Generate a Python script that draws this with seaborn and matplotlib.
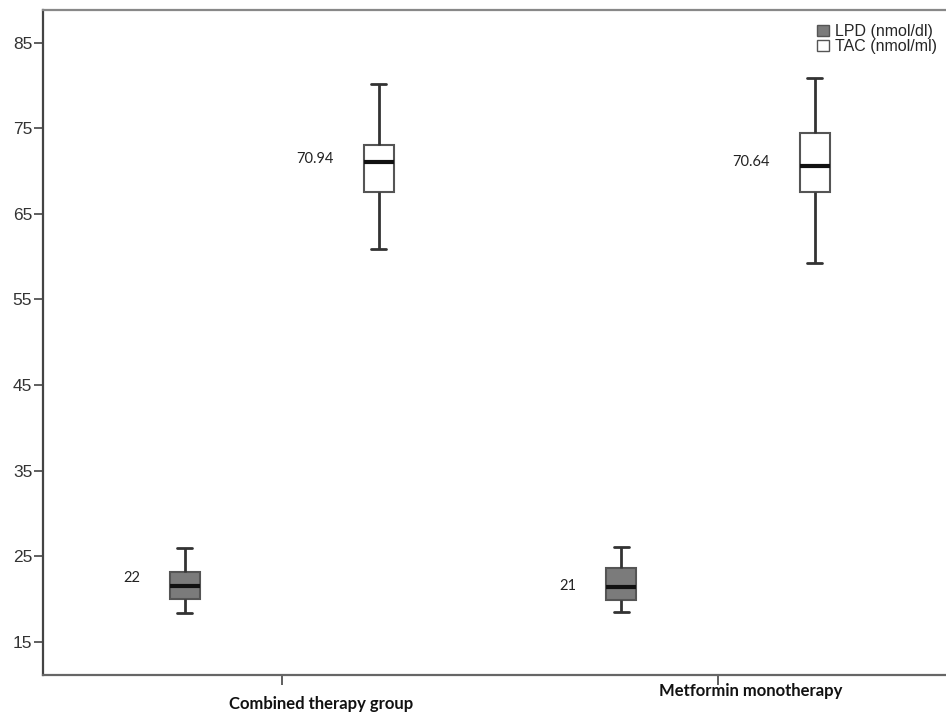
import matplotlib
matplotlib.use('Agg')
import matplotlib.pyplot as plt
import seaborn as sns
import pandas as pd
import numpy as np
from matplotlib.patches import Patch

# 数据：每个箱子用 [下须, Q1, 中位数, Q3, 上须] 表示
groups = ['Combined therapy group', 'Metformin monotherapy']
markers = ['LPD (nmol/dl)', 'TAC (nmol/ml)']
lpd_combined = [18.3, 20.0, 21.5, 23.1, 25.9]
tac_combined = [60.9, 67.5, 71.0, 73.0, 80.2]
lpd_metformin = [18.5, 19.9, 21.4, 23.6, 26.1]
tac_metformin = [59.3, 67.5, 70.6, 74.4, 80.9]
# 箱子旁边的数值标注
value_labels = [['22', '70.94'], ['21', '70.64']]
label_values = [[22, 70.94], [21, 70.64]]
y_ticks = [15, 25, 35, 45, 55, 65, 75, 85]

box_colors = {'LPD (nmol/dl)': '#7b7b7b', 'TAC (nmol/ml)': '#ffffff'}


def build_frame():
    rows = []
    series = {
        (groups[0], markers[0]): lpd_combined,
        (groups[0], markers[1]): tac_combined,
        (groups[1], markers[0]): lpd_metformin,
        (groups[1], markers[1]): tac_metformin,
    }
    for (g, m), vals in series.items():
        for v in vals:
            rows.append([g, m, v])
    return pd.DataFrame(rows, columns=['group', 'marker', 'value'])


def draw(_df):
    sns.set_style('white')
    plt.rcParams['font.family'] = ['Liberation Sans', 'DejaVu Sans']

    fig = plt.figure(figsize=(9.46, 7.19), dpi=100)
    ax = fig.add_axes([0.0451, 0.0612, 0.9665, 0.9249])

    sns.boxplot(data=_df, x='group', y='value', hue='marker', order=groups,
                hue_order=markers, palette=box_colors, width=0.888, gap=0.845,
                whis=np.inf, linewidth=1.5, linecolor='#333333', legend=False,
                medianprops={'color': '#111111', 'linewidth': 3.0},
                whiskerprops={'color': '#333333', 'linewidth': 2.0},
                capprops={'color': '#333333', 'linewidth': 2.0},
                boxprops={'edgecolor': '#555555'},
                ax=ax)

    ax.set_xlim(-0.548, 1.548)
    ax.set_ylim(11.11, 88.82)
    ax.set_yticks(y_ticks)
    ax.set_yticklabels([str(t) for t in y_ticks], fontsize=12.5, color='#333333')
    ax.set_xticks([0, 1])
    ax.set_xticklabels(['', ''])
    ax.set_xlabel('')
    ax.set_ylabel('')

    ax.tick_params(axis='y', direction='out', length=6.5, width=1.2, color='#444444', pad=1, left=True)
    ax.tick_params(axis='x', direction='out', length=7.5, width=1.2, color='#444444', bottom=True)

    for side in ['left', 'bottom', 'top']:
        ax.spines[side].set_visible(True)
        ax.spines[side].set_linewidth(1.6)
    ax.spines['left'].set_color('#444444')
    ax.spines['bottom'].set_color('#666666')
    ax.spines['top'].set_color('#888888')
    ax.spines['right'].set_visible(False)

    # 数值标注
    offset = 0.222
    for gi in range(len(groups)):
        for mi in range(len(markers)):
            xpos = gi + (-offset if mi == 0 else offset)
            ax.annotate(value_labels[gi][mi], xy=(xpos, label_values[gi][mi]),
                        xytext=(-45, 4), textcoords='offset pixels',
                        ha='right', va='center', fontsize=10.5, family='Lato',
                        color='#222222')

    # 组名（原图中位置不完全对齐刻度）
    fig.text(321.5 / 946, 1 - 704 / 719, groups[0], ha='center', va='center',
             fontsize=12, fontweight='bold', family='Lato', color='#111111')
    fig.text(751 / 946, 1 - 691 / 719, groups[1], ha='center', va='center',
             fontsize=12, fontweight='bold', family='Lato', color='#111111')

    handles = [Patch(facecolor=box_colors[m], edgecolor='#555555', linewidth=1.0) for m in markers]
    ax.legend(handles, markers, loc='upper left', bbox_to_anchor=(817 / 946, 1 - 24 / 719),
              bbox_transform=fig.transFigure, frameon=False, fontsize=11.5,
              handlelength=0.75, handleheight=0.75, handletextpad=0.4,
              labelspacing=0.0, borderpad=0, borderaxespad=0)

    fig.savefig('out.png', dpi=100)
    print('done')


if __name__ == '__main__':
    df = build_frame()
    draw(df)
